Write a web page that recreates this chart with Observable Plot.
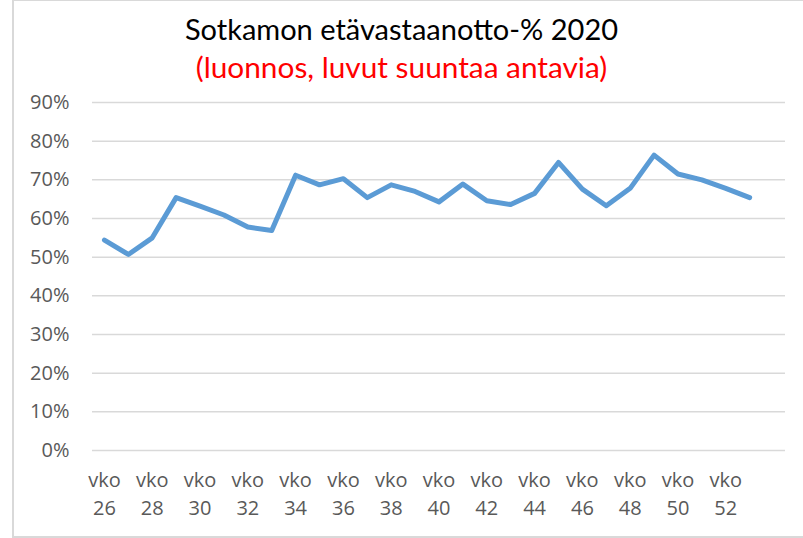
<!DOCTYPE html>
<html><head><meta charset="utf-8">
<script src="https://cdn.jsdelivr.net/npm/d3@7"></script>
<script src="https://cdn.jsdelivr.net/npm/@observablehq/plot@0.6"></script>
<style>
body{margin:0;background:#fff;}
#wrap{position:relative;width:803px;height:538px;overflow:hidden;background:#fff;}
#frame{position:absolute;left:12px;top:-1px;width:800px;height:539px;border:2px solid #d9d9d9;box-sizing:border-box;}
.t{position:absolute;left:0;width:803px;text-align:center;white-space:nowrap;font-family:Lato,"Open Sans",sans-serif;}
#title{top:11px;font-size:29px;line-height:36px;color:#000;}
#sub{top:49px;font-size:29.8px;line-height:36px;color:#ff0000;}
#chart{position:absolute;left:0;top:90px;}
#chart svg{overflow:visible;}
</style>
</head><body>
<div id="wrap">
<div id="frame"></div>
<div class="t" id="title">Sotkamon etävastaanotto-% 2020</div>
<div class="t" id="sub">(luonnos, luvut suuntaa antavia)</div>
<div id="chart"></div>
</div>
<script>
const weeks = [26,27,28,29,30,31,32,33,34,35,36,37,38,39,40,41,42,43,44,45,46,47,48,49,50,51,52,53];
const values = [54.4,50.7,55.0,65.4,63.2,60.9,57.8,56.9,71.2,68.7,70.3,65.4,68.7,67.0,64.3,68.9,64.6,63.6,66.5,74.5,67.6,63.3,67.8,76.4,71.5,70.0,67.8,65.4];
const xTickWeeks = [26,28,30,32,34,36,38,40,42,44,46,48,50,52];
const yTicks = [0,10,20,30,40,50,60,70,80,90];

const data = weeks.map((w,i)=>({week:w, value:values[i]}));

const chart = Plot.plot({
  width:803, height:448,
  marginLeft:92, marginRight:18, marginTop:12, marginBottom:88,
  style:{fontFamily:"'Open Sans', sans-serif", background:"transparent"},
  x:{domain:[25.5,54.5], axis:null, label:null},
  y:{domain:[0,90], axis:null, label:null},
  marks:[
    Plot.gridY(yTicks,{stroke:"#d9d9d9", strokeOpacity:1, strokeWidth:1.5}),
    Plot.axisY(yTicks,{tickSize:0, tickPadding:23, tickFormat:d=>d+"%", fontSize:20, color:"#595959", label:null}),
    Plot.axisX(xTickWeeks,{tickSize:0, tickPadding:16, tickFormat:d=>"vko\n"+d, fontSize:20, lineHeight:1.43, color:"#595959", label:null}),
    Plot.line(data,{x:"week", y:"value", stroke:"#5b9bd5", strokeWidth:5, strokeLinejoin:"round", strokeLinecap:"round"})
  ]
});
document.getElementById("chart").appendChild(chart);
</script>
</body></html>
